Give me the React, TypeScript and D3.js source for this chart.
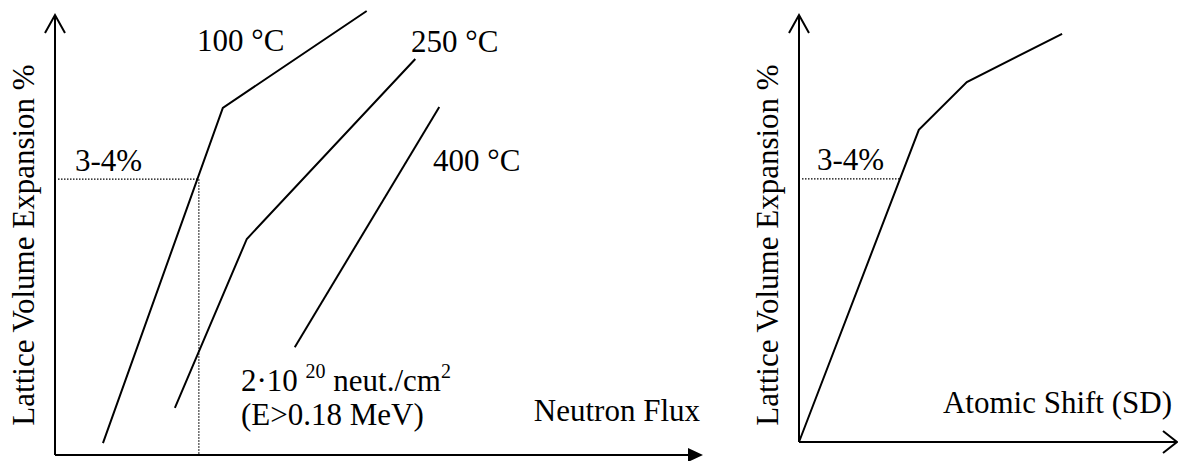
import React, { useEffect, useRef } from 'react';
import * as d3 from 'd3';

type Pt = [number, number];

// Left panel: lattice swelling vs neutron flux (schematic units 0-100)
const curve100: Pt[] = [[7.4, 2.7], [25.9, 78.9], [48.1, 100.9]];
const curve250: Pt[] = [[18.5, 10.7], [29.6, 49.1], [55.6, 90.0]];
const curve400: Pt[] = [[37.0, 24.5], [59.3, 79.1]];
const tempLabels = ['100 °C', '250 °C', '400 °C'];
const fluxLevel = 62.7;   // "3-4%" level
const fluxAtLevel = 22.2; // flux where 100 °C curve reaches it

// Right panel: lattice swelling vs atomic shift
const shiftCurve: Pt[] = [[0, 0], [31.7, 73.1], [44.4, 84.3], [69.6, 95.6]];
const shiftLevel = 61.6;
const shiftAtLevel = 26.7;

const yTitle = 'Lattice Volume Expansion %';
const levelLabel = '3-4%';
const FONT = "'Liberation Serif', 'Times New Roman', Times, serif";
const FS = 31;

const App: React.FC = () => {
  const ref = useRef<SVGSVGElement>(null);

  useEffect(() => {
    if (!ref.current) return;
    const svg = d3.select(ref.current);
    svg.selectAll('*').remove();

    const line = (x: d3.ScaleLinear<number, number>, y: d3.ScaleLinear<number, number>) =>
      d3.line<Pt>().x(d => x(d[0])).y(d => y(d[1]));

    const text = (x: number, y: number, s: string, anchor = 'start') =>
      svg.append('text')
        .attr('x', x).attr('y', y)
        .attr('text-anchor', anchor)
        .style('font-family', FONT)
        .style('font-size', `${FS}px`)
        .attr('fill', '#000')
        .text(s);

    // ---------- left panel ----------
    const xL = d3.scaleLinear().domain([0, 100]).range([55, 703]);
    const yL = d3.scaleLinear().domain([0, 100]).range([455, 15]);

    // axes
    svg.append('line')
      .attr('x1', xL(0)).attr('y1', yL(0)).attr('x2', xL(0)).attr('y2', yL(100))
      .attr('stroke', '#000').attr('stroke-width', 2);
    svg.append('polyline')
      .attr('points', `${xL(0) - 10},${yL(100) + 18} ${xL(0)},${yL(100)} ${xL(0) + 10},${yL(100) + 18}`)
      .attr('fill', 'none').attr('stroke', '#000').attr('stroke-width', 2);
    svg.append('line')
      .attr('x1', xL(0)).attr('y1', yL(0)).attr('x2', xL(100) - 12).attr('y2', yL(0))
      .attr('stroke', '#000').attr('stroke-width', 2);
    svg.append('path')
      .attr('d', `M${xL(100) - 15},${yL(0) - 7} L${xL(100)},${yL(0)} L${xL(100) - 15},${yL(0) + 7} Z`)
      .attr('fill', '#000');

    // dotted guide lines
    svg.append('path')
      .attr('d', `M${xL(0) + 3},${yL(fluxLevel)} H${xL(fluxAtLevel)} V${yL(0)}`)
      .attr('fill', 'none').attr('stroke', '#000').attr('stroke-width', 1.2)
      .attr('stroke-dasharray', '1.5,1.5');

    const lineL = line(xL, yL);
    [curve100, curve250, curve400].forEach(c => {
      svg.append('path')
        .attr('d', lineL(c) || '')
        .attr('fill', 'none').attr('stroke', '#000').attr('stroke-width', 2);
    });

    text(197, 51, tempLabels[0]);
    text(411, 52, tempLabels[1]);
    text(433, 171, tempLabels[2]);
    text(75, 171, levelLabel);
    text(700, 421, 'Neutron Flux', 'end');

    // fluence annotation with superscripts
    const fl = text(241, 391, '');
    fl.append('tspan').text('2·10 ');
    fl.append('tspan').style('font-size', '20px').attr('dy', -13).text('20');
    fl.append('tspan').attr('dy', 13).text(' neut./cm');
    fl.append('tspan').style('font-size', '20px').attr('dy', -13).text('2');
    text(241, 425, '(E>0.18 MeV)');

    svg.append('text')
      .attr('transform', 'translate(34,245) rotate(-90)')
      .attr('text-anchor', 'middle')
      .style('font-family', FONT).style('font-size', `${FS}px`)
      .text(yTitle);

    // ---------- right panel ----------
    const xR = d3.scaleLinear().domain([0, 100]).range([799, 1177]);
    const yR = d3.scaleLinear().domain([0, 100]).range([442, 15]);

    svg.append('line')
      .attr('x1', xR(0)).attr('y1', yR(0)).attr('x2', xR(0)).attr('y2', yR(100))
      .attr('stroke', '#000').attr('stroke-width', 2);
    svg.append('polyline')
      .attr('points', `${xR(0) - 10},${yR(100) + 18} ${xR(0)},${yR(100)} ${xR(0) + 10},${yR(100) + 18}`)
      .attr('fill', 'none').attr('stroke', '#000').attr('stroke-width', 2);
    svg.append('line')
      .attr('x1', xR(0)).attr('y1', yR(0)).attr('x2', xR(100)).attr('y2', yR(0))
      .attr('stroke', '#000').attr('stroke-width', 2);
    svg.append('polyline')
      .attr('points', `${xR(100) - 14},${yR(0) - 11} ${xR(100)},${yR(0)} ${xR(100) - 14},${yR(0) + 11}`)
      .attr('fill', 'none').attr('stroke', '#000').attr('stroke-width', 2);

    svg.append('line')
      .attr('x1', xR(0) + 3).attr('y1', yR(shiftLevel))
      .attr('x2', xR(shiftAtLevel)).attr('y2', yR(shiftLevel))
      .attr('stroke', '#000').attr('stroke-width', 1.2)
      .attr('stroke-dasharray', '1.5,1.5');

    svg.append('path')
      .attr('d', line(xR, yR)(shiftCurve) || '')
      .attr('fill', 'none').attr('stroke', '#000').attr('stroke-width', 2);

    text(817, 170, levelLabel);
    text(1172, 413, 'Atomic Shift (SD)', 'end');

    svg.append('text')
      .attr('transform', 'translate(778,245) rotate(-90)')
      .attr('text-anchor', 'middle')
      .style('font-family', FONT).style('font-size', `${FS}px`)
      .text(yTitle);
  }, []);

  return (
    <svg
      ref={ref}
      width={1178}
      height={461}
      style={{ position: 'absolute', left: 0, top: 0, background: '#fff' }}
    />
  );
};

export default App;
